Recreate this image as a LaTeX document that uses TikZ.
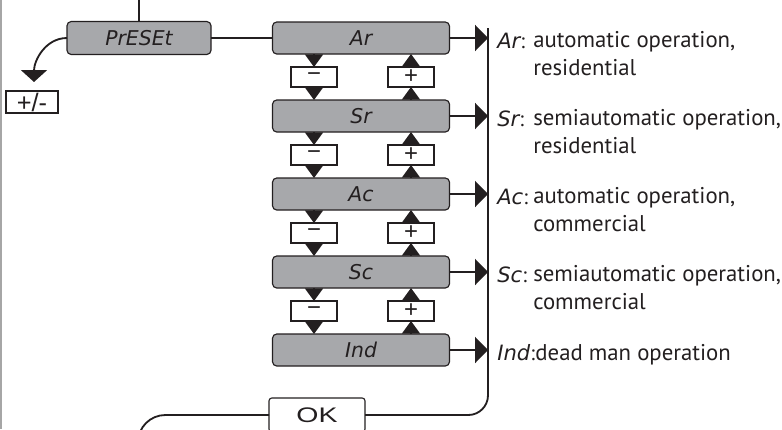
\documentclass[tikz,border=0pt]{standalone}
\usepackage{fontspec}
\setmainfont{PT Sans}
\newfontfamily\segfont{DejaVu Sans}
\newfontfamily\keyfont{Liberation Sans}
\newfontfamily\okfont{Liberation Sans}[FakeStretch=1.35]
\usetikzlibrary{arrows.meta,positioning}
\definecolor{lcdgray}{RGB}{167,168,171}
\definecolor{inkgray}{RGB}{35,31,32}
\newcommand{\pxu}{0.025cm}
\newcommand{\seg}[1]{{\segfont\itshape #1}}

\begin{document}
\begin{tikzpicture}[x=\pxu,y=-\pxu,
  lcd/.style={draw=inkgray, fill=lcdgray, rounded corners=3pt, line width=0.8pt,
    minimum width=177*\pxu, minimum height=32*\pxu, inner sep=0pt, outer sep=0pt,
    font=\segfont\itshape\fontsize{14.5}{14.5}\selectfont, text=inkgray},
  keybox/.style={draw=inkgray, fill=white, line width=0.8pt, minimum width=46*\pxu,
    minimum height=20*\pxu, inner sep=0pt, outer sep=0pt,
    font=\keyfont\fontsize{17}{17}\selectfont, text=inkgray},
  wire/.style={draw=inkgray, line width=1.3pt},
  flowtip/.style={-{Triangle[length=9pt,width=12.8pt]}},
  railtip/.style={-{Triangle[length=9.2pt,width=18.5pt]}},
  desc/.style={inner sep=0pt, align=left, text=inkgray,
    font=\fontsize{16.2}{19.5}\selectfont},
  seglabel/.style={inner sep=0pt, text=inkgray,
    font=\fontsize{15}{15}\selectfont}
]
  \useasboundingbox (0,0) rectangle (782,429);
  \clip (0,0) rectangle (782,429);

  \draw[gray!70, line width=0.9pt] (1,0) -- (1,429);

  % preset entry
  \coordinate (presettop) at (139,0);
  \node[lcd, minimum width=144*\pxu, minimum height=33*\pxu] (preset) at (139,38) {PrESEt};
  \draw[wire] (presettop) -- (preset.north);
  \coordinate (pmtip) at (34,82);
  \node[keybox, minimum width=52*\pxu, minimum height=22*\pxu, font=\keyfont\fontsize{18}{18}\selectfont] (pm) at (32,102) {+/-};
  \draw[wire, -{Triangle[length=8.5pt,width=18.5pt]}] (preset.west) to[out=180,in=90] (pmtip);

  % menu entries
  \node[lcd] (ar) at (361,38) {Ar};
  \node[lcd] (sr) at (361,116) {Sr};
  \node[lcd] (ac) at (361,194) {Ac};
  \node[lcd] (sc) at (361,272) {Sc};
  \node[lcd] (ind) at (361,350) {Ind};
  \draw[wire] (preset) -- (ar);

  \foreach \top/\bot [count=\i] in {ar/sr,sr/ac,ac/sc,sc/ind}{
    \node[keybox] (minus\i) at (314,38+78*\i-39) {−};
    \node[keybox] (plus\i) at (411,38+78*\i-39) {+};
    \draw[wire, flowtip] (\top.south -| minus\i) -- (minus\i.north);
    \draw[wire, flowtip] (minus\i.south) -- (\bot.north -| minus\i);
    \draw[wire, flowtip] (\bot.north -| plus\i) -- (plus\i.south);
    \draw[wire, flowtip] (plus\i.north) -- (\top.south -| plus\i);
  }

  % rail back to OK
  \coordinate (railtop) at (488,28);
  \node[keybox, rounded corners=2pt, minimum width=96*\pxu, minimum height=34*\pxu,
    font=\okfont\fontsize{15}{15}\selectfont] (ok) at (317,415) {OK};
  \draw[wire, rounded corners=14pt] (railtop) |- (ok.east);
  \draw[wire, rounded corners=19.5pt] (ok.west) -| (138,480);
  \foreach \n in {ar,sr,ac,sc,ind}
    \draw[wire, railtip] (\n.east) -- (\n.east -| railtop);

  % descriptions
  \node[seglabel, anchor=base west] (arl) at (497,48) {\seg{Ar}:};
  \node[desc, anchor=base west] (ard) at (533,75) {automatic operation,\\residential};
  \node[seglabel, anchor=base west] (srl) at (497,126) {\seg{Sr}:};
  \node[desc, anchor=base west] (srd) at (533,153) {semiautomatic operation,\\residential};
  \node[seglabel, anchor=base west] (acl) at (497,204) {\seg{Ac}:};
  \node[desc, anchor=base west] (acd) at (533,231) {automatic operation,\\commercial};
  \node[seglabel, anchor=base west] (scl) at (497,282) {\seg{Sc}:};
  \node[desc, anchor=base west] (scd) at (533,309) {semiautomatic operation,\\commercial};
  \node[seglabel, anchor=base west] (indl) at (497,360) {\seg{Ind}:};
  \node[desc, anchor=base west] (indd) at (indl.base east) {dead man operation};
\end{tikzpicture}
\end{document}
